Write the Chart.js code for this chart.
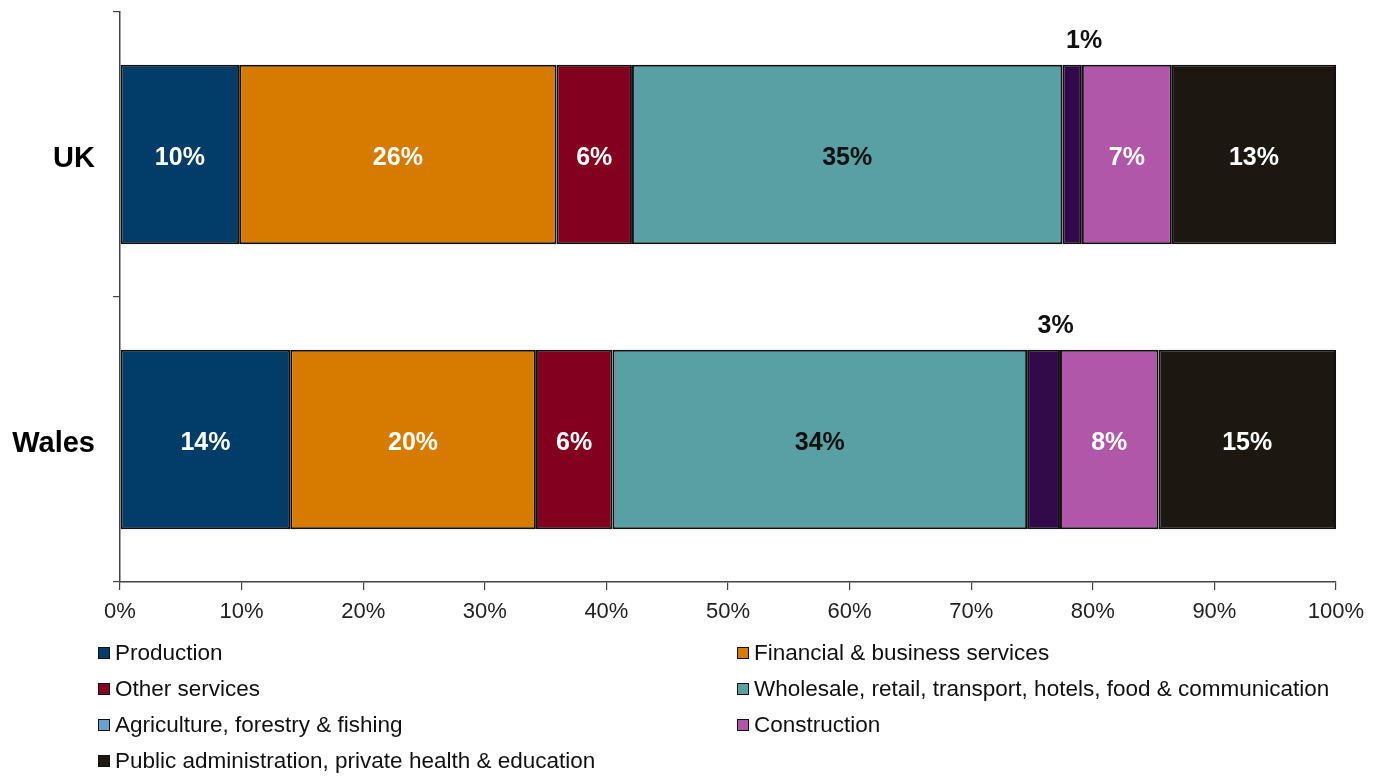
<!DOCTYPE html>
<html>
<head>
<meta charset="utf-8">
<script src="https://cdn.jsdelivr.net/npm/chart.js@4.4.1/dist/chart.umd.min.js"></script>
<style>
  html, body { margin: 0; padding: 0; background: #fff; }
  #wrap { position: relative; width: 1387px; height: 776px; font-family: "Liberation Sans", Arial, sans-serif; }
  #c { position: absolute; left: 0; top: 0; }
  .leg { position: absolute; height: 26px; display: flex; align-items: center; font-size: 22.5px; color: #111; white-space: nowrap; }
  .sw { width: 10px; height: 10px; border: 1.6px solid #111; margin-right: 5px; flex: none; }
</style>
</head>
<body>
<div id="wrap">
  <canvas id="c" width="1387" height="776"></canvas>
</div>
<script>
const categories = ['UK', 'Wales'];
const seriesNames = [
  'Production',
  'Financial & business services',
  'Other services',
  'Wholesale, retail, transport, hotels, food & communication',
  'Agriculture, forestry & fishing',
  'Construction',
  'Public administration, private health & education'
];
const ukValues    = [9.8, 26.1, 6.2, 35.4, 1.6, 7.4, 13.5];
const walesValues = [14.0, 20.2, 6.3, 34.1, 2.7, 8.1, 14.6];
const ukLabels    = ['10%', '26%', '6%', '35%', '1%', '7%', '13%'];
const walesLabels = ['14%', '20%', '6%', '34%', '3%', '8%', '15%'];
const xTicks = [0, 10, 20, 30, 40, 50, 60, 70, 80, 90, 100];

const barColors    = ['#023c68', '#d77b00', '#84001f', '#58a0a4', '#320a49', '#b157a9', '#1c1811'];
const legendColors = ['#023c68', '#d77b00', '#84001f', '#58a0a4', '#6aa0cf', '#b157a9', '#1c1811'];
const labelColors  = ['#fff', '#fff', '#fff', '#111', '#111', '#fff', '#fff'];
const labelAbove   = [false, false, false, false, true, false, false];

const datasets = seriesNames.map((name, i) => ({
  label: name,
  data: [ukValues[i], walesValues[i]],
  backgroundColor: barColors[i],
  borderColor: '#111',
  borderWidth: 2,
  borderSkipped: false,
  categoryPercentage: 1.0,
  barPercentage: 0.63
}));

const valueLabelPlugin = {
  id: 'valueLabels',
  afterDatasetsDraw(chart) {
    const ctx = chart.ctx;
    ctx.save();
    ctx.font = 'bold 25px "Liberation Sans", Arial, sans-serif';
    ctx.textAlign = 'center';
    ctx.textBaseline = 'middle';
    const allLabels = [ukLabels, walesLabels];
    chart.data.datasets.forEach((ds, i) => {
      const meta = chart.getDatasetMeta(i);
      meta.data.forEach((el, j) => {
        const p = el.getProps(['x', 'y', 'base', 'height'], true);
        const txt = allLabels[j][i];
        ctx.fillStyle = labelColors[i];
        if (labelAbove[i]) {
          const cx = (p.x + p.base) / 2 + 12;
          ctx.fillText(txt, cx, p.y - p.height / 2 - 24);
        } else {
          ctx.fillText(txt, (p.x + p.base) / 2, p.y + 4);
        }
      });
    });
    ctx.restore();
  }
};

new Chart(document.getElementById('c'), {
  type: 'bar',
  data: { labels: categories, datasets },
  options: {
    indexAxis: 'y',
    responsive: false,
    animation: false,
    devicePixelRatio: 1,
    layout: { padding: { top: 12, right: 51, bottom: 154, left: 0 } },
    plugins: { legend: { display: false }, tooltip: { enabled: false } },
    scales: {
      x: {
        stacked: true,
        min: 0,
        max: 100,
        afterFit(s) { s.height = 40; s.paddingLeft = 0; s.paddingRight = 0; },
        afterBuildTicks(s) { s.ticks = xTicks.map(v => ({ value: v })); },
        ticks: {
          callback: v => v + '%',
          font: { family: '"Liberation Sans", Arial, sans-serif', size: 22 },
          color: '#222',
          padding: 9,
          maxRotation: 0
        },
        grid: { drawOnChartArea: false, tickLength: 8, color: '#444', lineWidth: 1.2 },
        border: { color: '#444', width: 1.5 }
      },
      y: {
        stacked: true,
        afterFit(s) { s.width = 120; s.paddingTop = 0; s.paddingBottom = 0; },
        ticks: {
          font: { family: '"Liberation Sans", Arial, sans-serif', size: 29, weight: 'bold' },
          color: '#000',
          padding: 18,
          labelOffset: 4
        },
        grid: { drawOnChartArea: false, tickLength: 7, color: '#444', lineWidth: 1.2, offset: true },
        border: { color: '#444', width: 1.5 }
      }
    }
  },
  plugins: [valueLabelPlugin]
});

// Two-column legend
const wrap = document.getElementById('wrap');
const rowY = [653, 689, 725, 761];
const colX = [98, 737];
seriesNames.forEach((name, i) => {
  const row = Math.floor(i / 2), col = i % 2;
  const d = document.createElement('div');
  d.className = 'leg';
  d.style.left = colX[col] + 'px';
  d.style.top = (rowY[row] - 13) + 'px';
  const sw = document.createElement('span');
  sw.className = 'sw';
  sw.style.background = legendColors[i];
  const t = document.createElement('span');
  t.textContent = name;
  d.appendChild(sw);
  d.appendChild(t);
  wrap.appendChild(d);
});
</script>
</body>
</html>
